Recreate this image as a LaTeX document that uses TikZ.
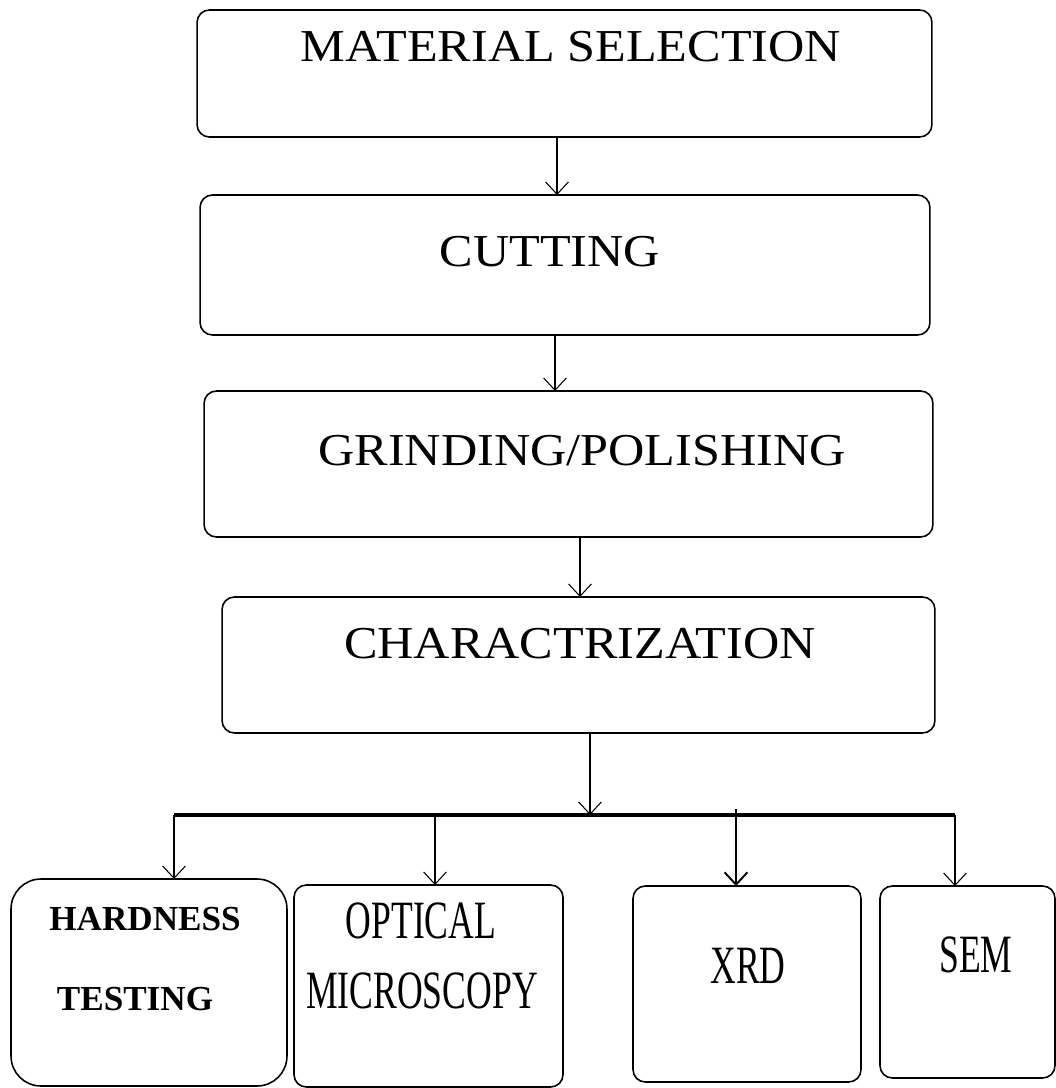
\documentclass[tikz,border=0pt]{standalone}
\usepackage{fontspec}
\setmainfont{Liberation Serif}
\newfontfamily\widefont[FakeStretch=1.1]{Liberation Serif}
\newfontfamily\narrowfont[FakeStretch=0.66]{Liberation Serif}
\usepackage{tikz}
\usetikzlibrary{positioning,arrows.meta,calc}

\begin{document}
\begin{tikzpicture}[
  x=0.02cm, y=-0.02cm,
  >={Straight Barb[length=7pt,width=13pt]},
  stage/.style={
    rectangle, rounded corners=7pt, draw=black, line width=0.9pt,
    inner sep=0pt, outer sep=0pt
  },
  stagetxt/.style={anchor=base, inner sep=0pt, font=\widefont\fontsize{26}{30}\selectfont},
  method/.style={
    rectangle, rounded corners=7pt, draw=black, line width=0.9pt,
    inner sep=0pt, outer sep=0pt
  },
  methodtxt/.style={anchor=base, inner sep=0pt, font=\narrowfont\fontsize{30.7}{34}\selectfont},
  boldtxt/.style={anchor=base, inner sep=0pt, font=\bfseries\fontsize{20}{24}\selectfont},
  arrow/.style={->, line width=0.6pt, draw=black},
  bus/.style={line width=2.2pt, draw=black}
]
\useasboundingbox (0,0) rectangle (1055,1088);

% --- PROCESS STAGES ---
\node[stage, minimum width=14.7cm, minimum height=2.54cm] (matsel) at (564.5,73.5) {};
\node[stagetxt] (matselT) at (571,62) {MATERIAL SELECTION};

\node[stage, minimum width=14.6cm, minimum height=2.8cm] (cut) at (565,265) {};
\node[stagetxt] (cutT) at (550,266) {CUTTING};

\node[stage, minimum width=14.58cm, minimum height=2.92cm] (grind) at (568.5,464) {};
\node[stagetxt] (grindT) at (582,465) {GRINDING/POLISHING};

\node[stage, minimum width=14.26cm, minimum height=2.72cm] (charac) at (578.5,665) {};
\node[stagetxt] (characT) at (580,658) {CHARACTRIZATION};

% --- CHARACTERIZATION METHODS ---
\node[method, rounded corners=17pt, minimum width=5.52cm, minimum height=4.14cm] (hard) at (149,982.5) {};
\node[boldtxt] (hardT1) at (145,930) {HARDNESS};
\node[boldtxt] (hardT2) at (135,1010) {TESTING};

\node[method, minimum width=5.38cm, minimum height=4.04cm] (opt) at (428.5,986) {};
\node[methodtxt] (optT1) at (421,938) {OPTICAL};
\node[methodtxt] (optT2) at (422,1008) {MICROSCOPY};

\node[method, minimum width=4.56cm, minimum height=3.92cm] (xrd) at (747,984) {};
\node[methodtxt] (xrdT) at (748,983) {XRD};

\node[method, minimum width=3.5cm, minimum height=3.84cm] (sem) at (967.5,982) {};
\node[methodtxt] (semT) at (976,972) {SEM};

% --- arrows between stages ---
\draw[arrow] ([xshift=-0.15cm]matsel.south) -- ([xshift=-0.15cm]matsel.south |- cut.north);
\draw[arrow] ([xshift=-0.2cm]cut.south) -- ([xshift=-0.2cm]cut.south |- grind.north);
\draw[arrow] ([xshift=0.23cm]grind.south) -- ([xshift=0.23cm]grind.south |- charac.north);

% --- branching bus ---
\coordinate (busL) at (174,815);
\coordinate (busR) at (955,815);
\draw[bus] (busL) -- (busR);
\draw[arrow] ([xshift=0.23cm]charac.south) -- ([xshift=0.23cm]charac.south |- busL);
\draw[arrow] (busL) -- (hard.north -| busL);
\draw[arrow] ([xshift=0.13cm]opt.north |- busL) -- ([xshift=0.13cm]opt.north);
\draw[arrow, line width=1.1pt] ([xshift=-0.22cm, yshift=0.12cm]xrd.north |- busL) -- ([xshift=-0.22cm]xrd.north);
\draw[arrow] (busR) -- (sem.north -| busR);

\end{tikzpicture}
\end{document}
